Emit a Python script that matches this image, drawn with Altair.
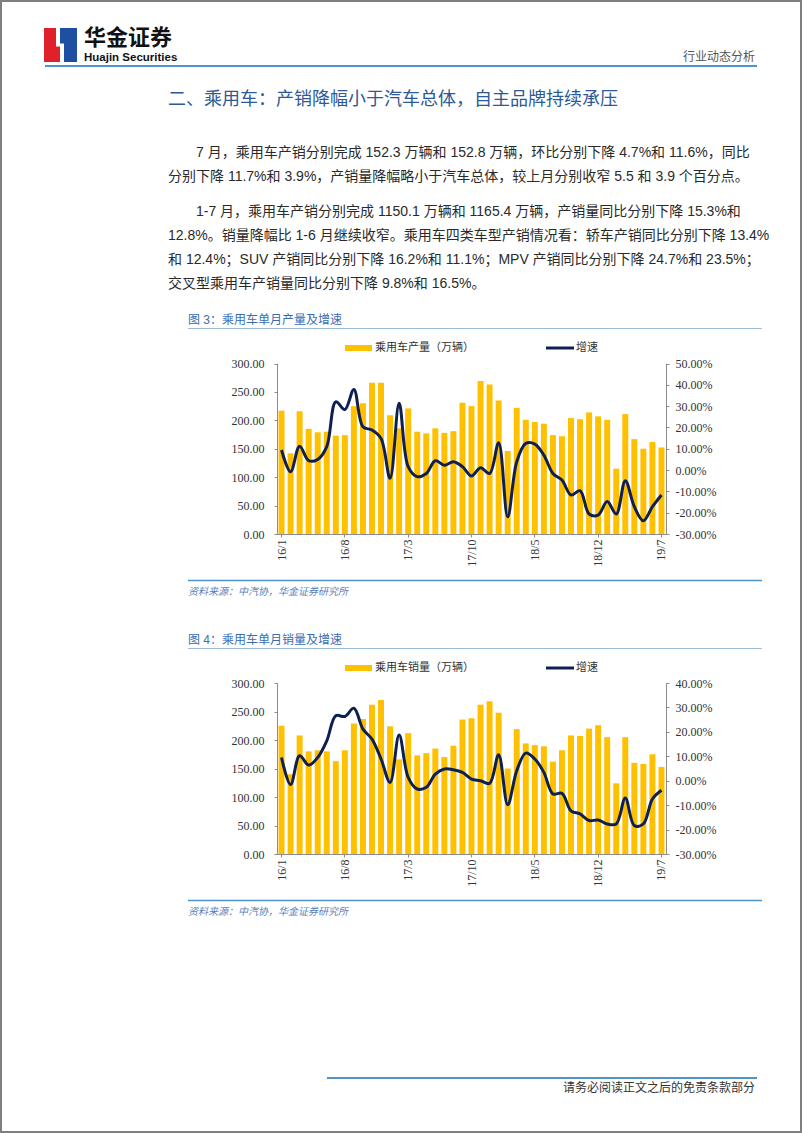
import altair as alt
import pandas as pd

# ---------------- data ----------------
months = ["16/1","16/2","16/3","16/4","16/5","16/6","16/7","16/8","16/9","16/10","16/11","16/12",
          "17/1","17/2","17/3","17/4","17/5","17/6","17/7","17/8","17/9","17/10","17/11","17/12",
          "18/1","18/2","18/3","18/4","18/5","18/6","18/7","18/8","18/9","18/10","18/11","18/12",
          "19/1","19/2","19/3","19/4","19/5","19/6","19/7"]
tick_months = ["16/1","16/8","17/3","17/10","18/5","18/12","19/7"]

production = [217,142,216,185,179,180,173,174,225,230,266,266,209,186,221,180,177,186,178,181,231,225,269,263,235,
              146,222,201,197,194,174,172,204,202,214,207,201,115,211,167,150,162,152.3]
production_growth = [9.4,-0.8,11.2,4.4,5.0,11.0,32.0,28.4,37.8,20.3,18.8,14.8,-3.9,31.3,1.6,-3.1,-1.6,4.4,2.3,3.9,1.6,-2.8,1.1,-1.6,12.8,
                     -21.9,3.9,12.5,12.2,7.0,-1.6,-4.7,-11.7,-9.7,-20.6,-21.1,-14.8,-20.6,-5.0,-17.2,-23.8,-17.2,-11.7]
sales = [225,140,208,180,182,180,163,182,229,237,262,270,224,166,212,173,177,185,170,190,236,238,262,268,248,
         150,219,194,191,189,162,182,208,207,220,226,205,124,205,160,158,175,152.8]
sales_growth = [9.5,-1.6,10.2,6.4,9.5,16.3,26.6,26.3,29.7,21.1,17.0,8.9,-0.7,18.7,1.4,-3.4,-2.7,2.7,4.8,4.5,3.4,0.7,0.0,-1.1,10.6,
                -9.8,4.1,11.3,8.9,3.4,-5.4,-5.2,-12.3,-13.6,-16.3,-16.1,-17.7,-17.7,-7.1,-18.4,-17.7,-7.5,-3.9]

left_ticks = [0, 50, 100, 150, 200, 250, 300]
right_ticks_1 = [-30, -20, -10, 0, 10, 20, 30, 40, 50]
right_ticks_2 = [-30, -20, -10, 0, 10, 20, 30, 40]

df1 = pd.DataFrame({"month": months, "value": production, "growth": production_growth})
df2 = pd.DataFrame({"month": months, "value": sales, "growth": sales_growth})

# ---------------- styles ----------------
W, H = 802, 1133
CJK = "Liberation Sans, Noto Sans CJK SC"
NUM = "Liberation Serif, Noto Sans CJK SC"
BAR = "#FFC000"
NAVY = "#0E2050"
BLUE_T = "#2D5A96"
BLUE_F = "#3A6DB0"
BLUE_L = "#4F93C8"
TXT = "#2A2A2A"

one = pd.DataFrame({"k": [0]})


def text(s, x, y, size, color=TXT, align="left", font=CJK, weight="normal", style="normal"):
    return alt.Chart(pd.DataFrame({"t": [s]})).mark_text(
        align=align, baseline="middle", fontSize=size, color=color, font=font,
        fontWeight=weight, fontStyle=style
    ).encode(x=alt.value(x), y=alt.value(y), text="t:N")


def hrule(x1, x2, y, color, w):
    return alt.Chart(one).mark_rule(color=color, strokeWidth=w).encode(
        x=alt.value(x1), x2=alt.value(x2), y=alt.value(y))


def rect(x1, x2, y1, y2, color):
    return alt.Chart(one).mark_rect(color=color).encode(
        x=alt.value(x1), x2=alt.value(x2), y=alt.value(y1), y2=alt.value(y2))


def dual_chart(df, top, bottom, pct_dom, pct_ticks):
    xscale = alt.Scale(type="band", domain=months, range=[277, 666], paddingInner=0.34, paddingOuter=0.17)
    axis_common = dict(domainColor="#8C8C8C", tickColor="#8C8C8C", labelColor="#333333",
                       labelFont=NUM, labelFontSize=12, tickSize=3, grid=False, title=None)
    bars = alt.Chart(df).mark_bar(color=BAR).encode(
        x=alt.X("month:N", scale=xscale,
                axis=alt.Axis(orient="bottom", offset=bottom - H, values=tick_months, labelAngle=270,
                              labelPadding=2, **axis_common)),
        y=alt.Y("value:Q", scale=alt.Scale(domain=[0, 300], range=[bottom, top], nice=False),
                axis=alt.Axis(orient="left", offset=-277, values=left_ticks, format=".2f",
                              labelPadding=10, **axis_common)),
    )
    line = alt.Chart(df).mark_line(color=NAVY, strokeWidth=3, interpolate="catmull-rom").encode(
        x=alt.X("month:N", scale=xscale, axis=None, bandPosition=0.5),
        y=alt.Y("growth:Q", scale=alt.Scale(domain=pct_dom, range=[bottom, top], nice=False, zero=False),
                axis=alt.Axis(orient="right", offset=666 - W, values=pct_ticks, labelPadding=6,
                              labelExpr="(datum.value < 0 ? '-' : '') + format(abs(datum.value), '.2f') + '%'",
                              **axis_common)),
    )
    return [bars, line]


def figure_block(dy, fig_title, legend_label, chart_layers):
    layers = [
        text(fig_title, 188, 320 + dy, 12, BLUE_F),
        hrule(188, 762, 328.5 + dy, "#9BBBD9", 1),
        rect(345, 372, 345 + dy, 351 + dy, BAR),
        text(legend_label, 375, 348 + dy, 11, "#333333"),
        hrule(546, 574, 348 + dy, NAVY, 3),
        text("增速", 576, 348 + dy, 11, "#333333"),
    ]
    layers += chart_layers
    layers += [
        hrule(188, 762, 580.5 + dy, BLUE_L, 1.5),
        text("资料来源：中汽协，华金证券研究所", 188, 591.5 + dy, 10, "#5B80BD", style="italic"),
    ]
    return layers


layers = []
# page border
layers.append(alt.Chart(one).mark_rect(filled=False, stroke="#7F7F7F", strokeWidth=2).encode(
    x=alt.value(1), x2=alt.value(W - 1), y=alt.value(1), y2=alt.value(H - 1)))

# logo
layers += [
    rect(44, 60, 28, 62, "#E0202A"),
    rect(60, 77, 28, 62, "#1F4FA0"),
    rect(56, 60, 28, 46, "#FFFFFF"),
    rect(60, 64, 44, 62, "#FFFFFF"),
    rect(56, 64, 43.5, 46.5, "#FFFFFF"),
    text("华金证券", 84, 37.5, 22, "#111111", font="Noto Sans CJK SC", weight="bold"),
    text("Huajin Securities", 84, 58, 11.5, "#111111", font="Liberation Sans", weight="bold"),
    text("行业动态分析", 755, 57, 12, "#555555", align="right"),
    hrule(45, 757, 66, BLUE_L, 2),
]

# section title and body
layers += [
    text("二、乘用车：产销降幅小于汽车总体，自主品牌持续承压", 168, 100, 18, BLUE_T, font="Noto Sans CJK SC"),
    text("7 月，乘用车产销分别完成 152.3 万辆和 152.8 万辆，环比分别下降 4.7%和 11.6%，同比", 196, 153, 14),
    text("分别下降 11.7%和 3.9%，产销量降幅略小于汽车总体，较上月分别收窄 5.5 和 3.9 个百分点。", 168, 177, 14),
    text("1-7 月，乘用车产销分别完成 1150.1 万辆和 1165.4 万辆，产销量同比分别下降 15.3%和", 196, 212, 14),
    text("12.8%。销量降幅比 1-6 月继续收窄。乘用车四类车型产销情况看：轿车产销同比分别下降 13.4%", 168, 236, 14),
    text("和 12.4%；SUV 产销同比分别下降 16.2%和 11.1%；MPV 产销同比分别下降 24.7%和 23.5%；", 168, 260, 14),
    text("交叉型乘用车产销量同比分别下降 9.8%和 16.5%。", 168, 284, 14),
]

# figures
layers += figure_block(0, "图 3：乘用车单月产量及增速", "乘用车产量（万辆）",
                       dual_chart(df1, 363.5, 534, [-30, 50], right_ticks_1))
layers += figure_block(320, "图 4：乘用车单月销量及增速", "乘用车销量（万辆）",
                       dual_chart(df2, 683, 854, [-30, 40], right_ticks_2))

# footer
layers += [
    hrule(327, 757, 1078, BLUE_L, 2),
    text("请务必阅读正文之后的免责条款部分", 755, 1088, 12, "#333333", align="right"),
]

chart = alt.layer(*layers).resolve_scale(x="independent", y="independent").properties(
    width=W, height=H, autosize=alt.AutoSizeParams(type="none"), padding=0, background="#FFFFFF"
).configure_view(strokeWidth=0)

chart.save("out.html", embed_options={"renderer": "svg", "actions": False})
